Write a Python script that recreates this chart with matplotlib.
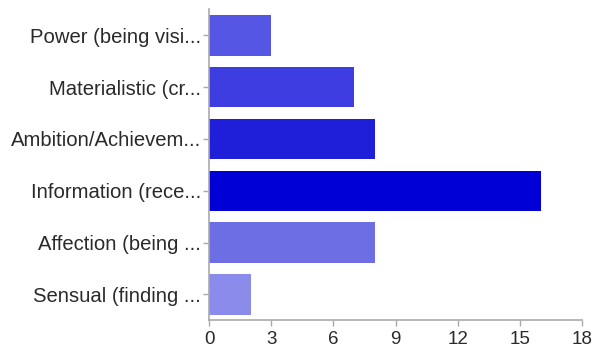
import matplotlib
matplotlib.use("Agg")
import matplotlib.pyplot as plt

categories = ["Power (being visi...", "Materialistic (cr...", "Ambition/Achievem...",
              "Information (rece...", "Affection (being ...", "Sensual (finding ..."]
counts = [3, 7, 8, 16, 8, 2]
bar_colors = ["#5656e4", "#3d3de2", "#1f1fda", "#0000d6", "#6d6de4", "#8b8bec"]
xticks = [0, 3, 6, 9, 12, 15, 18]

plt.rcParams["font.family"] = ["Liberation Sans", "DejaVu Sans"]

fig = plt.figure(figsize=(5.94, 3.5), dpi=100)
ax = fig.add_axes([0.352, 0.085, 0.628, 0.888])

ypos = list(range(len(categories)))
ax.barh(ypos, counts, height=0.78, color=bar_colors)
ax.set_ylim(len(categories) - 0.5, -0.5)
ax.set_yticks(ypos)
ax.set_yticklabels(categories, fontsize=14.6, color="#2a2a2a")
ax.set_xlim(0, 18)
ax.set_xticks(xticks)
ax.set_xticklabels([str(t) for t in xticks], fontsize=13.5, color="#2a2a2a")

for side in ["top", "right"]:
    ax.spines[side].set_visible(False)
for side in ["left", "bottom"]:
    ax.spines[side].set_color("#aaaaaa")
    ax.spines[side].set_linewidth(1.2)
ax.tick_params(axis="y", length=4, width=1, color="#aaaaaa", pad=2)
ax.tick_params(axis="x", length=4, width=1, color="#aaaaaa", pad=4)

fig.savefig("out.png", dpi=100)
